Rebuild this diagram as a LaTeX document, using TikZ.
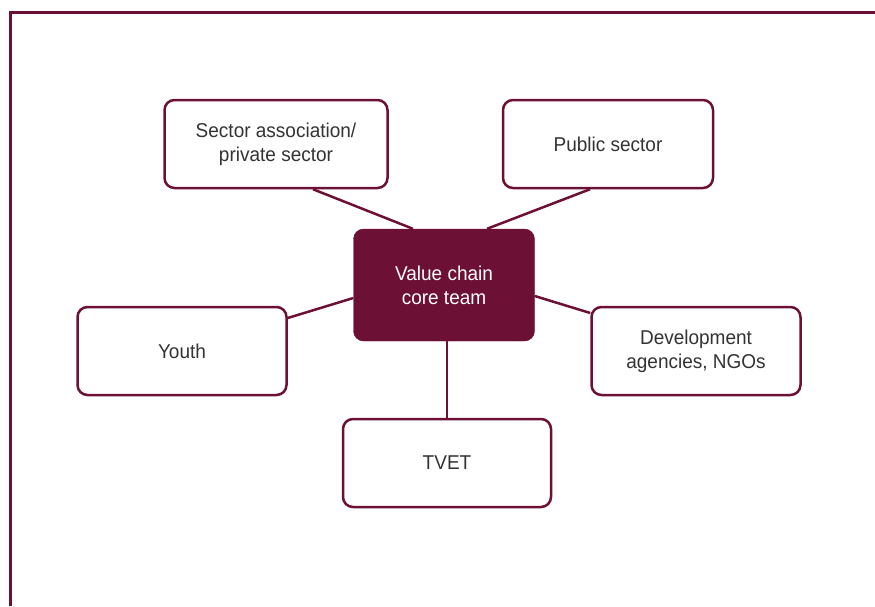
\documentclass[tikz,border=0pt]{standalone}
\usepackage{fontspec}
\setmainfont[FakeStretch=0.95]{Liberation Sans}
\usepackage{tikz}
\usetikzlibrary{positioning}
\definecolor{wine}{HTML}{6D1035}
\definecolor{textgray}{HTML}{333333}

\tikzset{
  partner/.style={draw=wine, line width=2.5pt, rounded corners=10pt, fill=white,
    minimum height=88pt, align=center, text=textgray, font=\fontsize{20}{24}\selectfont},
  coreteam/.style={fill=wine, draw=wine, rounded corners=10pt, minimum width=181pt,
    minimum height=112pt, align=center, text=white, font=\fontsize{20}{24}\selectfont},
  link/.style={draw=wine, line width=2.5pt}
}

\begin{document}
\begin{tikzpicture}[x=1pt,y=-1pt]
  \useasboundingbox (0,0) rectangle (875,606);
  \draw[wine, line width=3pt] (10,606) -- (10,12) -- (875,12);

  \node[coreteam] (core) at (444,285) {Value chain\\core team};
  \node[partner, minimum width=223pt] (sector) at (276,144) {Sector association/\\private sector};
  \node[partner, minimum width=210pt] (public) at (608,144) {Public sector};
  \node[partner, minimum width=209pt] (youth) at (182,351) {Youth};
  \node[partner, minimum width=209pt] (dev) at (696,351) {Development\\agencies, NGOs};
  \node[partner, minimum width=208pt] (tvet) at (447,463) {TVET};

  \draw[link] ([xshift=37pt]sector.south) -- ([xshift=-31pt]core.north);
  \draw[link] ([xshift=-18pt]public.south) -- ([xshift=43pt]core.north);
  \draw[link] ([yshift=33pt]youth.east) -- ([yshift=-13pt]core.west);
  \draw[link] ([yshift=38pt]dev.west) -- ([yshift=-11pt]core.east);
  \draw[link] (tvet.north) -- (tvet.north |- core.south);
\end{tikzpicture}
\end{document}
